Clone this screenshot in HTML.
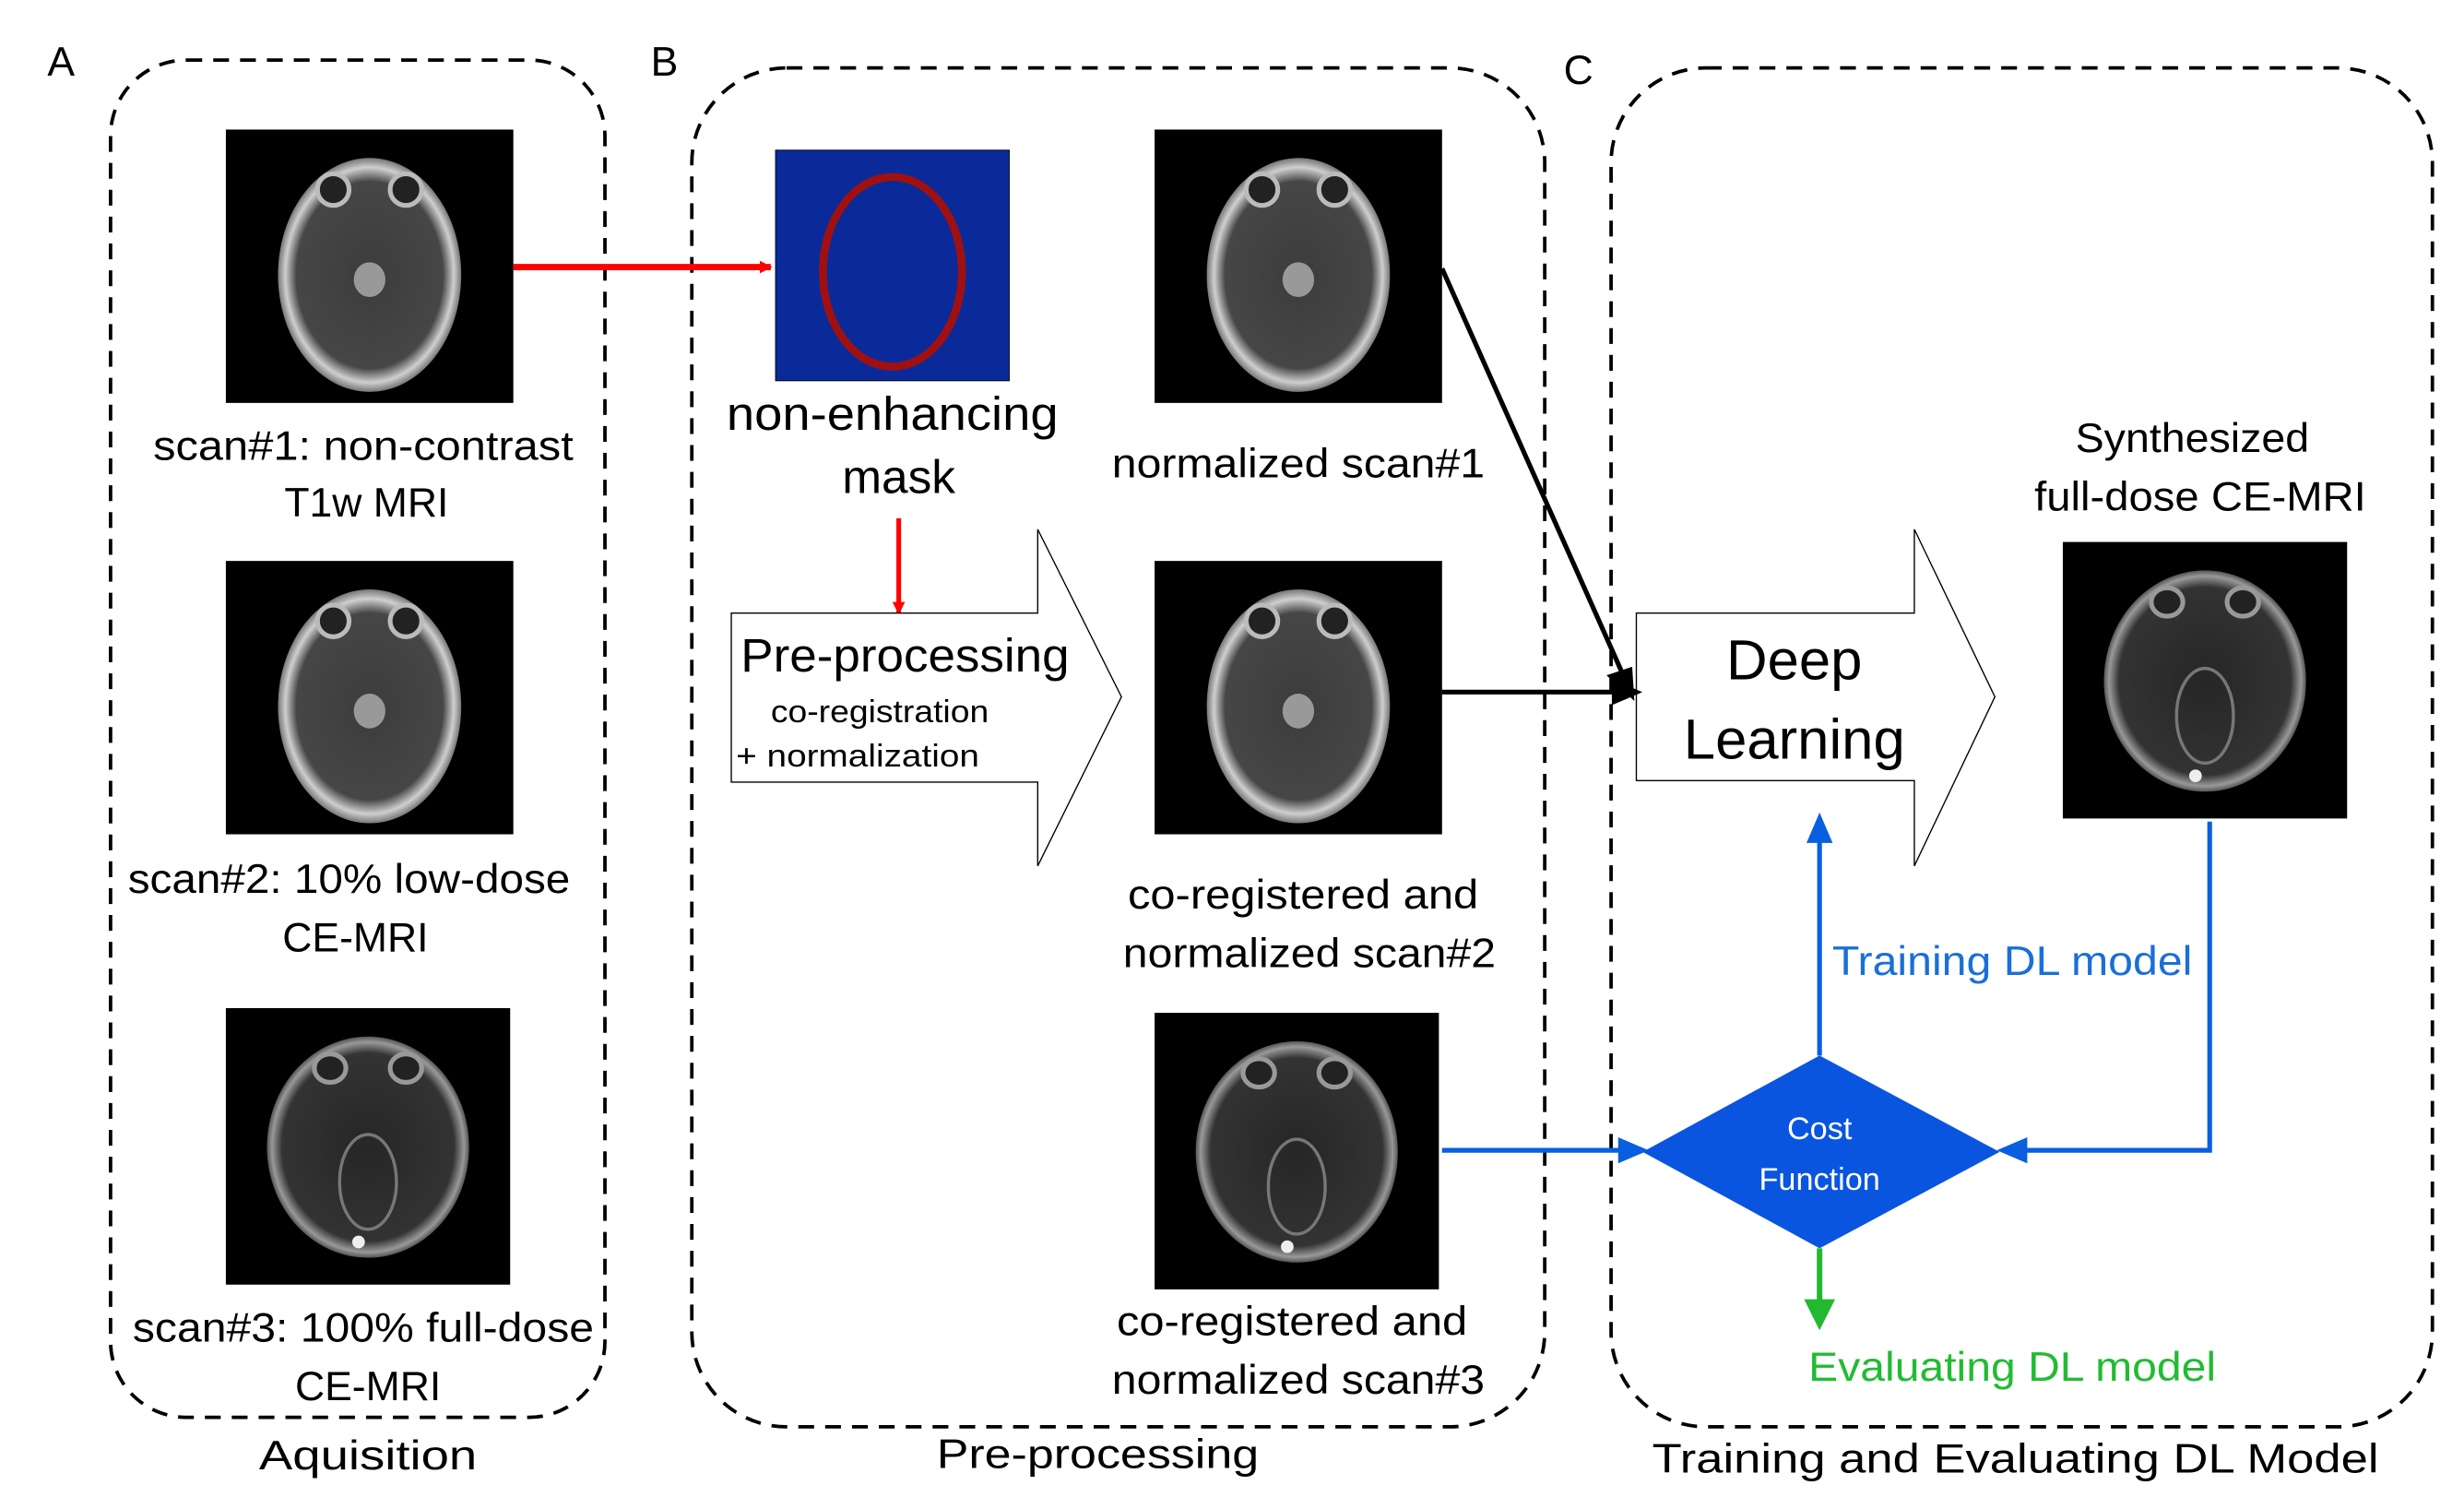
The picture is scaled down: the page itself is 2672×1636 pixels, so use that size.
<!DOCTYPE html>
<html><head><meta charset="utf-8"><style>html,body{margin:0;padding:0;background:#fff}svg{display:block}</style></head>
<body>
<svg width="2672" height="1636" viewBox="0 0 1560 955" preserveAspectRatio="none" xmlns="http://www.w3.org/2000/svg" font-family="Liberation Sans, sans-serif">
<defs>
<radialGradient id="br" cx="50%" cy="50%" r="50%"><stop offset="0" stop-color="#3c3c3c"/><stop offset="0.8" stop-color="#464646"/><stop offset="0.92" stop-color="#cfcfcf"/><stop offset="1" stop-color="#777"/></radialGradient>
<radialGradient id="br2" cx="50%" cy="50%" r="50%"><stop offset="0" stop-color="#262626"/><stop offset="0.85" stop-color="#333"/><stop offset="0.95" stop-color="#999"/><stop offset="1" stop-color="#555"/></radialGradient>
<g id="b1"><rect x="0" y="0" width="182" height="173" fill="#000"/><ellipse cx="91" cy="92" rx="58" ry="74" fill="url(#br)"/><ellipse cx="68" cy="38" rx="10" ry="10" fill="#222" stroke="#bbb" stroke-width="3"/><ellipse cx="114" cy="38" rx="10" ry="10" fill="#222" stroke="#bbb" stroke-width="3"/><ellipse cx="91" cy="95" rx="10" ry="11" fill="#999"/></g>
<g id="b3"><rect x="0" y="0" width="180" height="175" fill="#000"/><ellipse cx="90" cy="88" rx="64" ry="70" fill="url(#br2)"/><ellipse cx="66" cy="38" rx="10" ry="9" fill="#222" stroke="#999" stroke-width="3"/><ellipse cx="114" cy="38" rx="10" ry="9" fill="#222" stroke="#999" stroke-width="3"/><ellipse cx="90" cy="110" rx="18" ry="30" fill="none" stroke="#777" stroke-width="2"/><circle cx="84" cy="148" r="4" fill="#eee"/></g>
<marker id="ar" markerWidth="8" markerHeight="8" refX="7" refY="4" orient="auto" markerUnits="userSpaceOnUse"><path d="M0,0 L8,4 L0,8z" fill="red"/></marker>
</defs>
<g fill="none" stroke="#000" stroke-width="2.2" stroke-dasharray="10,7">
<rect x="70" y="38" width="313" height="859" rx="48"/>
<rect x="438" y="43" width="540" height="860" rx="60"/>
<rect x="1020" y="43" width="520" height="860" rx="60"/>
</g>
<g font-size="26" fill="#000">
<text x="30" y="48">A</text><text x="412" y="48">B</text><text x="990" y="53">C</text>
</g>
<use href="#b1" x="143" y="82"/><use href="#b1" x="143" y="355"/><use href="#b3" x="143" y="638"/>
<use href="#b1" x="731" y="82"/><use href="#b1" x="731" y="355"/><use href="#b3" x="731" y="641"/>
<use href="#b3" x="1306" y="343"/>
<rect x="491" y="95" width="148" height="146" fill="#0a2a9a" stroke="#000" stroke-width="0.5"/>
<ellipse cx="565" cy="172" rx="44" ry="60" fill="none" stroke="#a01010" stroke-width="5"/>
<g font-size="26" text-anchor="middle" fill="#000">
<text x="230" y="291" textLength="266" lengthAdjust="spacingAndGlyphs">scan#1: non-contrast</text>
<text x="232" y="327">T1w MRI</text>
<text x="221" y="565" textLength="280" lengthAdjust="spacingAndGlyphs">scan#2: 10% low-dose</text>
<text x="225" y="602">CE-MRI</text>
<text x="230" y="849" textLength="292" lengthAdjust="spacingAndGlyphs">scan#3: 100% full-dose</text>
<text x="233" y="886">CE-MRI</text>
<text x="233" y="930" textLength="138" lengthAdjust="spacingAndGlyphs">Aquisition</text>
<text x="822" y="302" textLength="236" lengthAdjust="spacingAndGlyphs">normalized scan#1</text>
<text x="825" y="575" textLength="222" lengthAdjust="spacingAndGlyphs">co-registered and</text>
<text x="829" y="612" textLength="236" lengthAdjust="spacingAndGlyphs">normalized scan#2</text>
<text x="818" y="845" textLength="222" lengthAdjust="spacingAndGlyphs">co-registered and</text>
<text x="822" y="882" textLength="236" lengthAdjust="spacingAndGlyphs">normalized scan#3</text>
<text x="695" y="929" textLength="204" lengthAdjust="spacingAndGlyphs">Pre-processing</text>
<text x="1388" y="286" textLength="148" lengthAdjust="spacingAndGlyphs">Synthesized</text>
<text x="1393" y="323" textLength="210" lengthAdjust="spacingAndGlyphs">full-dose CE-MRI</text>
<text x="1276" y="932" textLength="460" lengthAdjust="spacingAndGlyphs">Training and Evaluating DL Model</text>
</g>
<g font-size="30" text-anchor="middle" fill="#000">
<text x="565" y="272" textLength="210" lengthAdjust="spacingAndGlyphs">non-enhancing</text>
<text x="569" y="312">mask</text>
</g>
<line x1="325" y1="169" x2="488" y2="169" stroke="red" stroke-width="4" marker-end="url(#ar)"/>
<line x1="569" y1="328" x2="569" y2="388" stroke="red" stroke-width="3" marker-end="url(#ar)"/>
<path d="M463,388 H657 V335 L710,441 L657,548 V495 H463z" fill="#fff" stroke="#000" stroke-width="0.8"/>
<text x="469" y="425" font-size="30" textLength="208" lengthAdjust="spacingAndGlyphs">Pre-processing</text>
<text x="488" y="457" font-size="20" textLength="138" lengthAdjust="spacingAndGlyphs">co-registration</text>
<text x="466" y="485" font-size="20" textLength="154" lengthAdjust="spacingAndGlyphs">+  normalization</text>
<path d="M1036,388 H1212 V335 L1263,441 L1212,548 V494 H1036z" fill="#fff" stroke="#000" stroke-width="0.8"/>
<g font-size="36" text-anchor="middle"><text x="1136" y="430">Deep</text><text x="1136" y="480">Learning</text></g>
<g stroke="#000" stroke-width="3" fill="#000">
<line x1="913" y1="170" x2="1028" y2="428"/><path d="M1033,440 L1020,428 L1032,424z"/>
<line x1="913" y1="438" x2="1024" y2="438"/><path d="M1036,438 L1022,432 L1022,444z"/>
</g>
<g stroke="#0a5ee0" stroke-width="3" fill="#0a5ee0">
<polyline points="1399,520 1399,728 1280,728" fill="none"/><path d="M1268,728 L1282,722 L1282,734z"/>
<line x1="913" y1="728" x2="1026" y2="728"/><path d="M1040,728 L1026,722 L1026,734z"/>
<line x1="1152" y1="668" x2="1152" y2="530"/><path d="M1152,518 L1146,532 L1158,532z"/>
</g>
<path d="M1040,729 L1152,668 L1266,729 L1152,790z" fill="#0a55e0"/>
<g font-size="20" fill="#fff" text-anchor="middle"><text x="1152" y="721">Cost</text><text x="1152" y="753">Function</text></g>
<g stroke="#22b830" stroke-width="3.5" fill="#22b830"><line x1="1152" y1="790" x2="1152" y2="826"/><path d="M1152,838 L1145,824 L1159,824z"/></g>
<text x="1160" y="617" font-size="26" fill="#1a6fd8" textLength="228" lengthAdjust="spacingAndGlyphs">Training DL model</text>
<text x="1274" y="874" font-size="26" fill="#22bb33" text-anchor="middle" textLength="258" lengthAdjust="spacingAndGlyphs">Evaluating DL model</text>
</svg>
</body></html>
